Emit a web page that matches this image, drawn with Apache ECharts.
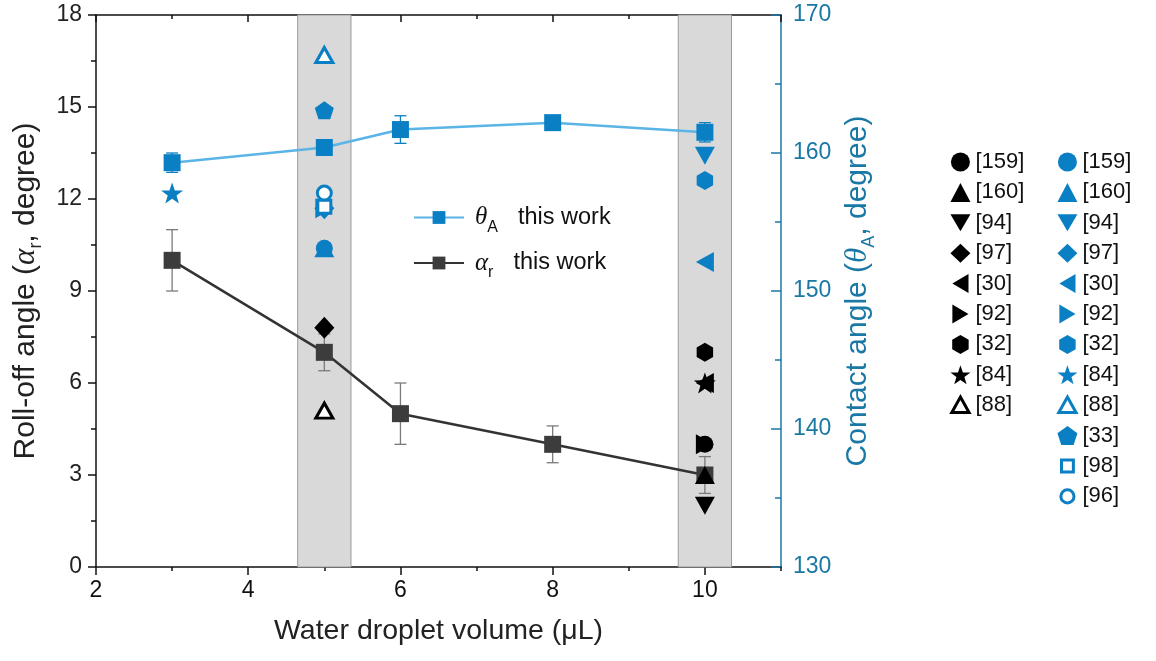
<!DOCTYPE html>
<html>
<head>
<meta charset="utf-8">
<script src="https://cdn.jsdelivr.net/npm/echarts@6/dist/echarts.min.js"></script>
<style>
  html, body { margin: 0; padding: 0; background: #fff; }
  #chart { width: 1156px; height: 661px; }
</style>
</head>
<body>
<div id="chart"></div>
<script>
// Droplet volumes tested in this work (µL)
const volumes = [3, 5, 6, 8, 10];
// Roll-off angle αr (degree) and its error
const rollOff = [10, 7, 5, 4, 3];
const rollOffErr = [1, 0.6, 1, 0.6, 0.6];
// Advancing contact angle θA (degree) and its error
const contact = [159.3, 160.4, 161.7, 162.2, 161.5];
const contactErr = [0.7, 0.3, 1, 0.3, 0.7];

// Literature roll-off angles: [volume, αr]
const rollRefLabels = ['[159]', '[160]', '[94]', '[97]', '[30]', '[92]', '[32]', '[84]', '[88]'];
const rollRefPoints = [[10, 4], [10, 3], [10, 2], [5, 7.8], [10, 6], [10, 4], [10, 7], [10, 6], [5, 5.1]];

// Literature contact angles: [volume, θA]
const contactRefLabels = ['[159]', '[160]', '[94]', '[97]', '[30]', '[92]', '[32]', '[84]', '[88]', '[33]', '[98]', '[96]'];
const contactRefPoints = [[5, 153.1], [5, 153.1], [10, 159.8], [5, 156], [10, 152.1], [5, 156], [10, 158], [3, 157.1], [5, 167.1], [5, 163.1], [5, 156.1], [5, 157.1]];

// Volumes highlighted by shaded bands
const bandRanges = [[4.65, 5.35], [9.65, 10.35]];

const FONT = 'Liberation Sans';
const BLACK = '#000';
const BLUE = '#0a7fc4';
const AXIS_BLUE = '#1a78a5';

const HEX = 'path://M0,-1L0.866,-0.5L0.866,0.5L0,1L-0.866,0.5L-0.866,-0.5Z';
const STAR = 'path://M0,-1L0.235,-0.324L0.951,-0.309L0.38,0.124L0.588,0.809L0,0.4L-0.588,0.809L-0.38,0.124L-0.951,-0.309L-0.235,-0.324Z';
const PENT = 'path://M0,-1L0.951,-0.309L0.588,0.809L-0.588,0.809L-0.951,-0.309Z';
// legend icons: pre-rotated triangles, and padded hollow markers so they stay small in the icon box
const TRI_DOWN = 'path://M-1,-0.8L1,-0.8L0,0.9Z';
const TRI_LEFT = 'path://M0.85,-1L0.85,1L-0.85,0Z';
const TRI_RIGHT = 'path://M-0.85,-1L-0.85,1L0.85,0Z';
const SQUARE_SMALL = 'path://M-1.6,-1.6M1.6,1.6M-1,-1L1,-1L1,1L-1,1Z';
const CIRCLE_SMALL = 'path://M-1.45,-1.45M1.45,1.45M-1,0A1,1,0,1,1,1,0A1,1,0,1,1,-1,0Z';
const TRI_SMALL = 'path://M-1.15,-1.15M1.15,1.05M0,-1L1,0.8L-1,0.8Z';

// marker look for each reference
const markerStyles = {
  '[159]': { symbol: 'circle', size: 17, rotate: 0 },
  '[160]': { symbol: 'triangle', size: [20, 18], rotate: 0 },
  '[94]':  { symbol: 'triangle', size: [20, 18], rotate: 180, icon: TRI_DOWN },
  '[97]':  { symbol: 'diamond', size: [20, 22], rotate: 0 },
  '[30]':  { symbol: 'triangle', size: [20, 18], rotate: 90, icon: TRI_LEFT },
  '[92]':  { symbol: 'triangle', size: [20, 18], rotate: -90, icon: TRI_RIGHT },
  '[32]':  { symbol: HEX, size: 19, rotate: 0 },
  '[84]':  { symbol: STAR, size: 22, rotate: 0 },
  '[88]':  { symbol: 'triangle', size: [17, 15], rotate: 0, hollow: true, icon: TRI_SMALL },
  '[33]':  { symbol: PENT, size: 19, rotate: 0 },
  '[98]':  { symbol: 'rect', size: 13, rotate: 0, hollow: true, icon: SQUARE_SMALL },
  '[96]':  { symbol: 'circle', size: 14, rotate: 0, hollow: true, icon: CIRCLE_SMALL }
};

function markerItemStyle(m, color) {
  return m.hollow
    ? { color: '#fff', borderColor: color, borderWidth: 3, opacity: 1 }
    : { color: color, borderWidth: 0, opacity: 1 };
}

function refSeries(label, point, color, yIndex, suffix) {
  const m = markerStyles[label];
  return {
    name: label + suffix,
    type: 'scatter',
    yAxisIndex: yIndex,
    symbol: m.symbol,
    symbolSize: m.size,
    symbolRotate: m.rotate,
    symbolKeepAspect: m.symbol.indexOf('path://') === 0,
    itemStyle: markerItemStyle(m, color),
    z: 5,
    silent: true,
    data: [point]
  };
}

function legendItem(label, suffix, color) {
  const m = markerStyles[label];
  return {
    name: label + suffix,
    icon: m.icon || m.symbol,
    itemStyle: markerItemStyle(m, color)
  };
}

function errorBarRenderer(color) {
  return function (params, api) {
    const x = api.value(0);
    const lo = api.coord([x, api.value(1)]);
    const hi = api.coord([x, api.value(2)]);
    const cap = 6;
    const style = { stroke: color, lineWidth: 1.3 };
    return {
      type: 'group',
      children: [
        { type: 'line', shape: { x1: lo[0], y1: lo[1], x2: hi[0], y2: hi[1] }, style: style },
        { type: 'line', shape: { x1: hi[0] - cap, y1: hi[1], x2: hi[0] + cap, y2: hi[1] }, style: style },
        { type: 'line', shape: { x1: lo[0] - cap, y1: lo[1], x2: lo[0] + cap, y2: lo[1] }, style: style }
      ]
    };
  };
}

const rollSeries = rollRefLabels.map((l, i) => refSeries(l, rollRefPoints[i], BLACK, 0, ' αr'));
const contactSeries = contactRefLabels.map((l, i) => refSeries(l, contactRefPoints[i], BLUE, 1, ' θA'));

const baseX = { type: 'value', min: 2, max: 11, splitLine: { show: false } };

const refLegend = {
  orient: 'vertical', top: 146,
  itemWidth: 20, itemHeight: 19, itemGap: 8.4,
  selectedMode: false,
  formatter: function (name) { return name.split(' ')[0]; },
  textStyle: { fontFamily: FONT, fontSize: 22, color: '#111', lineHeight: 20 }
};

const chart = echarts.init(document.getElementById('chart'), null, { renderer: 'canvas' });
chart.setOption({
  animation: false,
  backgroundColor: '#fff',
  grid: { left: 96, right: 375, top: 15, bottom: 94, containLabel: false },
  xAxis: [
    Object.assign({}, baseX, {
      position: 'bottom', interval: 2,
      axisLine: { lineStyle: { color: '#111', width: 1.5 } },
      axisTick: { inside: false, length: 8, lineStyle: { color: '#111', width: 1.5 } },
      axisLabel: { fontFamily: FONT, fontSize: 23, color: '#111', margin: 12, showMaxLabel: false },
      name: 'Water droplet volume (μL)', nameLocation: 'middle', nameGap: 50,
      nameTextStyle: { fontFamily: FONT, fontSize: 28.5, color: '#222' }
    }),
    Object.assign({}, baseX, {
      position: 'bottom', interval: 1,
      axisLine: { show: false },
      axisTick: { inside: false, length: 4, lineStyle: { color: '#111', width: 1.5 } },
      axisLabel: { show: false }
    }),
    Object.assign({}, baseX, {
      position: 'top', interval: 2,
      axisLine: { lineStyle: { color: '#111', width: 1.5 } },
      axisTick: { inside: true, length: 7, lineStyle: { color: '#111', width: 1.5 } },
      axisLabel: { show: false }
    }),
    Object.assign({}, baseX, {
      position: 'top', interval: 1,
      axisLine: { show: false },
      axisTick: { inside: true, length: 4, lineStyle: { color: '#111', width: 1.5 } },
      axisLabel: { show: false }
    })
  ],
  yAxis: [
    {
      type: 'value', min: 0, max: 18, interval: 3, position: 'left',
      splitLine: { show: false },
      axisLine: { show: true, lineStyle: { color: '#111', width: 1.5 } },
      axisTick: { show: true, inside: false, length: 8, lineStyle: { color: '#111', width: 1.5 } },
      minorTick: { show: true, splitNumber: 2, length: 5, lineStyle: { color: '#111', width: 1.5 } },
      axisLabel: { fontFamily: FONT, fontSize: 23, color: '#222', margin: 14 },
      name: '{t|Roll-off angle (}{i|α}{s|r}{t|, degree)}',
      nameLocation: 'middle', nameGap: 47, nameRotate: 90,
      nameTextStyle: {
        rich: {
          t: { fontFamily: FONT, fontSize: 30, color: '#222', lineHeight: 32, verticalAlign: 'middle' },
          i: { fontFamily: 'Liberation Serif', fontStyle: 'italic', fontSize: 31, color: '#222', lineHeight: 32, verticalAlign: 'middle' },
          s: { fontFamily: FONT, fontSize: 18, color: '#222', lineHeight: 40, verticalAlign: 'bottom' }
        }
      }
    },
    {
      type: 'value', min: 130, max: 170, interval: 10, position: 'right',
      splitLine: { show: false },
      axisLine: { show: true, lineStyle: { color: AXIS_BLUE, width: 1.5 } },
      axisTick: { show: true, inside: true, length: 10, lineStyle: { color: AXIS_BLUE, width: 1.5 } },
      minorTick: { show: true, splitNumber: 2, length: 6, lineStyle: { color: AXIS_BLUE, width: 1.5 } },
      axisLabel: { fontFamily: FONT, fontSize: 23, color: AXIS_BLUE, margin: 12 },
      name: '{t|Contact angle (}{i|θ}{s|A}{t|, degree)}',
      nameLocation: 'middle', nameGap: 56, nameRotate: 90,
      nameTextStyle: {
        rich: {
          t: { fontFamily: FONT, fontSize: 30, color: AXIS_BLUE, lineHeight: 32, verticalAlign: 'middle' },
          i: { fontFamily: 'Liberation Serif', fontStyle: 'italic', fontSize: 31, color: AXIS_BLUE, lineHeight: 32, verticalAlign: 'middle' },
          s: { fontFamily: FONT, fontSize: 18, color: AXIS_BLUE, lineHeight: 40, verticalAlign: 'bottom' }
        }
      }
    }
  ],
  legend: [
    {
      data: ['θA this work', 'αr this work'],
      orient: 'vertical', left: 408, top: 200,
      itemWidth: 50, itemHeight: 16, itemGap: 15,
      selectedMode: false,
      formatter: function (name) {
        return name.indexOf('θ') === 0 ? '{p|}{i|θ}{s|A}{g|}{t|this work}' : '{p|}{i|α}{s|r}{g|}{t|this work}';
      },
      textStyle: {
        rich: {
          p: { width: 6 },
          g: { width: 20 },
          t: { fontFamily: FONT, fontSize: 23.5, color: '#111', lineHeight: 26, verticalAlign: 'middle' },
          i: { fontFamily: 'Liberation Serif', fontStyle: 'italic', fontSize: 25, color: '#111', lineHeight: 26, verticalAlign: 'middle' },
          s: { fontFamily: FONT, fontSize: 16, color: '#111', lineHeight: 36, verticalAlign: 'bottom' }
        }
      }
    },
    Object.assign({}, refLegend, {
      left: 944,
      data: rollRefLabels.map(l => legendItem(l, ' αr', BLACK))
    }),
    Object.assign({}, refLegend, {
      left: 1051,
      data: contactRefLabels.map(l => legendItem(l, ' θA', BLUE))
    })
  ],
  series: [
    {
      name: 'bands', type: 'line', data: [], z: 1, silent: true,
      markArea: {
        silent: true,
        itemStyle: { color: '#d9d9d9', borderColor: '#9a9a9a', borderWidth: 1 },
        data: bandRanges.map(r => [{ xAxis: r[0] }, { xAxis: r[1] }])
      }
    },
    {
      name: 'αr error', type: 'custom', yAxisIndex: 0, z: 2, silent: true,
      renderItem: errorBarRenderer('#7a7a7a'),
      data: volumes.map((v, i) => [v, rollOff[i] - rollOffErr[i], rollOff[i] + rollOffErr[i]])
    },
    {
      name: 'θA error', type: 'custom', yAxisIndex: 1, z: 2, silent: true,
      renderItem: errorBarRenderer(BLUE),
      data: volumes.map((v, i) => [v, contact[i] - contactErr[i], contact[i] + contactErr[i]])
    },
    {
      name: 'αr this work', type: 'line', yAxisIndex: 0, z: 3,
      symbol: 'rect', symbolSize: 17, showAllSymbol: true,
      lineStyle: { color: '#333', width: 2.5 },
      itemStyle: { color: '#3c3c3c' },
      data: volumes.map((v, i) => [v, rollOff[i]])
    },
    {
      name: 'θA this work', type: 'line', yAxisIndex: 1, z: 3,
      symbol: 'rect', symbolSize: 17, showAllSymbol: true,
      lineStyle: { color: '#5ab4e6', width: 2.5 },
      itemStyle: { color: BLUE },
      data: volumes.map((v, i) => [v, contact[i]])
    }
  ].concat(rollSeries, contactSeries)
});
</script>
</body>
</html>
